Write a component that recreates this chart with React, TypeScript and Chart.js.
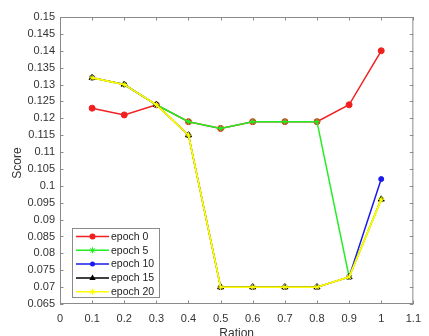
import React, { useEffect, useRef } from "react";
import { Chart, registerables } from "chart.js";

Chart.register(...registerables);

const ratios = [0.1, 0.2, 0.3, 0.4, 0.5, 0.6, 0.7, 0.8, 0.9, 1.0];
const epoch0 = [0.123, 0.121, 0.124, 0.119, 0.117, 0.119, 0.119, 0.119, 0.124, 0.14];
const epoch5 = [0.132, 0.13, 0.124, 0.119, 0.117, 0.119, 0.119, 0.119, 0.073, 0.096];
const epoch10 = [0.132, 0.13, 0.124, 0.115, 0.07, 0.07, 0.07, 0.07, 0.073, 0.102];
const epoch15 = [0.132, 0.13, 0.124, 0.115, 0.07, 0.07, 0.07, 0.07, 0.073, 0.096];
const epoch20 = [0.132, 0.13, 0.124, 0.115, 0.07, 0.07, 0.07, 0.07, 0.073, 0.096];
const seriesNames = ["epoch 0", "epoch 5", "epoch 10", "epoch 15", "epoch 20"];
const seriesColors = ["#f02020", "#22ee22", "#1a1aee", "#000000", "#ffff00"];
const seriesMarkers = ["circle", "star", "circle", "triangle", "star"];
const seriesRadius = [3, 3, 2.5, 3.5, 3];
const seriesWidths = [1.5, 1.5, 1.5, 1.2, 1.9];

const FONT = "'Liberation Sans', Arial, sans-serif";

const toPts = (ys: number[]) => ratios.map((x, i) => ({ x, y: ys[i] }));

function drawMarker(ctx: CanvasRenderingContext2D, style: string, x: number, y: number, r: number, color: string) {
  ctx.save();
  ctx.fillStyle = color;
  ctx.strokeStyle = color;
  ctx.lineWidth = 1;
  ctx.beginPath();
  if (style === "circle") {
    ctx.arc(x, y, r, 0, Math.PI * 2);
    ctx.fill();
  } else if (style === "triangle") {
    ctx.moveTo(x, y - r);
    ctx.lineTo(x + r * 0.9, y + r * 0.6);
    ctx.lineTo(x - r * 0.9, y + r * 0.6);
    ctx.closePath();
    ctx.fill();
  } else {
    for (let k = 0; k < 4; k++) {
      const ang = (k * Math.PI) / 4;
      ctx.moveTo(x - Math.cos(ang) * r, y - Math.sin(ang) * r);
      ctx.lineTo(x + Math.cos(ang) * r, y + Math.sin(ang) * r);
    }
    ctx.stroke();
  }
  ctx.restore();
}

const framePlugin = {
  id: "frame",
  afterDraw(chart: any) {
    const { ctx, chartArea: a, scales } = chart;
    const xs = scales.x;
    const ys = scales.y;
    ctx.save();
    ctx.strokeStyle = "#8a8a8a";
    ctx.lineWidth = 1;
    ctx.strokeRect(a.left + 0.5, a.top + 0.5, a.right - a.left - 1, a.bottom - a.top - 1);
    ctx.beginPath();
    const tl = 3.5;
    xs.ticks.forEach((t: any) => {
      const px = Math.round(xs.getPixelForValue(t.value)) + 0.5;
      ctx.moveTo(px, a.bottom);
      ctx.lineTo(px, a.bottom - tl);
      ctx.moveTo(px, a.top);
      ctx.lineTo(px, a.top + tl);
    });
    ys.ticks.forEach((t: any) => {
      const py = Math.round(ys.getPixelForValue(t.value)) + 0.5;
      ctx.moveTo(a.left, py);
      ctx.lineTo(a.left + tl, py);
      ctx.moveTo(a.right, py);
      ctx.lineTo(a.right - tl, py);
    });
    ctx.stroke();

    ctx.fillStyle = "#333333";
    ctx.font = `12px ${FONT}`;
    ctx.textAlign = "center";
    ctx.textBaseline = "middle";
    ctx.fillText("Ration", (a.left + a.right) / 2, 334);
    ctx.save();
    ctx.translate(18, 163);
    ctx.rotate(-Math.PI / 2);
    ctx.fillText("Score", 0, 0);
    ctx.restore();

    const lx = 72.5, ly = 228.5, lw = 87, lh = 69;
    ctx.fillStyle = "#ffffff";
    ctx.fillRect(lx, ly, lw, lh);
    ctx.strokeStyle = "#8a8a8a";
    ctx.lineWidth = 1;
    ctx.strokeRect(lx, ly, lw, lh);
    ctx.font = `10.5px ${FONT}`;
    ctx.textAlign = "left";
    seriesNames.forEach((name, i) => {
      const y = 236.5 + i * 13.8;
      ctx.strokeStyle = seriesColors[i];
      ctx.lineWidth = 1.5;
      ctx.beginPath();
      ctx.moveTo(76, y);
      ctx.lineTo(109, y);
      ctx.stroke();
      drawMarker(ctx, seriesMarkers[i], 92.5, y, seriesRadius[i], seriesColors[i]);
      ctx.fillStyle = "#222222";
      ctx.fillText(name, 111, y + 0.5);
    });
    ctx.restore();
  },
};

export default function App() {
  const ref = useRef<HTMLCanvasElement>(null);
  useEffect(() => {
    if (!ref.current) return;
    const data = [epoch0, epoch5, epoch10, epoch15, epoch20];
    const chart = new Chart(ref.current, {
      type: "line",
      data: {
        datasets: data.map((d, i) => ({
          label: seriesNames[i],
          data: toPts(d),
          order: 4 - i,
          borderColor: seriesColors[i],
          backgroundColor: seriesColors[i],
          borderWidth: seriesWidths[i],
          pointStyle: seriesMarkers[i] as any,
          pointRadius: seriesRadius[i],
          pointBorderWidth: 1,
          tension: 0,
        })),
      },
      options: {
        responsive: false,
        animation: false,
        devicePixelRatio: 1,
        layout: { padding: { top: 17, right: 5, left: 0, bottom: 0 } },
        plugins: { legend: { display: false }, tooltip: { enabled: false } },
        scales: {
          x: {
            type: "linear",
            min: 0,
            max: 1.1,
            grid: { display: false, drawTicks: false },
            border: { display: false },
            afterFit: (s: any) => {
              s.height = 32;
            },
            ticks: {
              stepSize: 0.1,
              padding: 8,
              maxRotation: 0,
              autoSkip: false,
              color: "#333333",
              font: { family: FONT, size: 11 },
              callback: (v: any) => String(Number(Number(v).toFixed(1))),
            },
          },
          y: {
            type: "linear",
            min: 0.065,
            max: 0.15,
            grid: { display: false, drawTicks: false },
            border: { display: false },
            afterFit: (s: any) => {
              s.width = 60;
            },
            ticks: {
              stepSize: 0.005,
              padding: 5,
              autoSkip: false,
              color: "#333333",
              font: { family: FONT, size: 11 },
              callback: (v: any) => String(Number(Number(v).toFixed(3))),
            },
          },
        },
      },
      plugins: [framePlugin],
    });
    return () => chart.destroy();
  }, []);
  return (
    <div style={{ position: "fixed", left: 0, top: 0, width: 429, height: 336, background: "#fff" }}>
      <canvas ref={ref} width={429} height={336} style={{ width: 429, height: 336 }} />
    </div>
  );
}
